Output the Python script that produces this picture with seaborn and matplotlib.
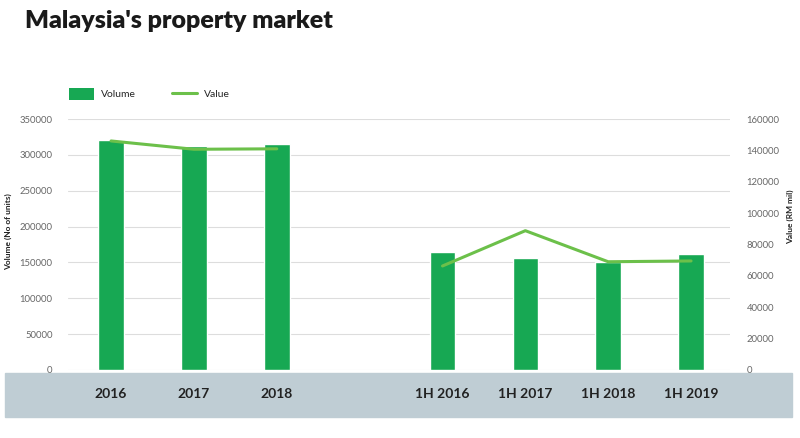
import matplotlib
matplotlib.use("Agg")
import matplotlib.pyplot as plt
import seaborn as sns
import pandas as pd
from matplotlib.patches import Patch, Rectangle
from matplotlib.lines import Line2D

# ---- data ----
categories = ["2016", "2017", "2018", "1H 2016", "1H 2017", "1H 2018", "1H 2019"]
period = ["annual", "annual", "annual", "half", "half", "half", "half"]
volume = [320500, 312500, 315000, 165000, 156500, 151000, 161500]
value = [146000, 140700, 141000, 66300, 88800, 69000, 69500]
left_ticks = [0, 50000, 100000, 150000, 200000, 250000, 300000, 350000]
right_ticks = [0, 20000, 40000, 60000, 80000, 100000, 120000, 140000, 160000]

positions = [0, 1, 2, 4, 5, 6, 7]  # gap between annual and half-year groups
df = pd.DataFrame({"cat": categories, "pos": positions, "period": period,
                   "volume": volume, "value": value})

BAR = "#17a853"
LINE = "#6cc04a"
BAND = "#bfcdd4"
TICK = "#666666"

sns.set_theme(style="white")
plt.rcParams["font.family"] = ["Lato", "DejaVu Sans"]

fig = plt.figure(figsize=(8, 4.38), dpi=100)
ax = fig.add_axes([0.085, 0.1553, 0.8275, 0.573])

# bottom band behind labels
band = Rectangle((5 / 800, 1 - 417 / 438), 787 / 800, 44 / 438,
                 transform=fig.transFigure, color=BAND, zorder=-5)
fig.patches.append(band)

sns.barplot(data=df, x="pos", y="volume", native_scale=True, width=0.31,
            color=BAR, saturation=1, ax=ax, zorder=3)
ax.set_ylim(0, 350000)
ax.set_xlim(-0.52, 7.47)
ax.set_yticks(left_ticks)
ax.set_yticklabels([str(t) for t in left_ticks], fontsize=6.8, color=TICK)
ax.yaxis.grid(True, color="#dddddd", linewidth=0.8, zorder=0)
ax.set_axisbelow(True)
ax.set_xticks(positions)
ax.set_xticklabels(categories, fontsize=10, fontweight="bold", color="#222222")
ax.tick_params(axis="x", length=0, pad=13)
ax.tick_params(axis="y", length=0, pad=11)
ax.set_xlabel("")
ax.set_ylabel("")
for s in ax.spines.values():
    s.set_visible(False)

ax2 = ax.twinx()
sns.lineplot(data=df, x="pos", y="value", units="period", estimator=None,
             color=LINE, linewidth=2.2, ax=ax2, zorder=4)
ax2.set_ylim(0, 160000)
ax2.set_yticks(right_ticks)
ax2.set_yticklabels([str(t) for t in right_ticks], fontsize=6.8, color=TICK)
ax2.tick_params(axis="y", length=0, pad=12)
ax2.set_ylabel("")
ax2.set_xlabel("")
ax2.grid(False)
for s in ax2.spines.values():
    s.set_visible(False)

fig.text(25 / 800, 1 - 21 / 438, "Malaysia's property market", fontsize=18,
         fontweight="heavy", color="#1a1a1a", va="center", ha="left")
fig.text(8 / 800, 1 - 232 / 438, "Volume (No of units)", rotation=90,
         fontsize=6, fontweight="bold", color="#222222", va="center", ha="center")
fig.text(790 / 800, 1 - 217 / 438, "Value (RM mil)", rotation=90,
         fontsize=6, fontweight="bold", color="#222222", va="center", ha="center")

handles = [Patch(facecolor=BAR, edgecolor="none", label="Volume"),
           Line2D([0], [0], color=LINE, linewidth=2.2, label="Value")]
fig.legend(handles=handles, loc="center left", bbox_to_anchor=(69 / 800, 1 - 94 / 438),
           ncol=2, frameon=False, fontsize=7.5, handlelength=2.4, handleheight=1.4,
           columnspacing=3.4, handletextpad=0.7, borderaxespad=0, borderpad=0)

fig.savefig("out.png", dpi=100)
